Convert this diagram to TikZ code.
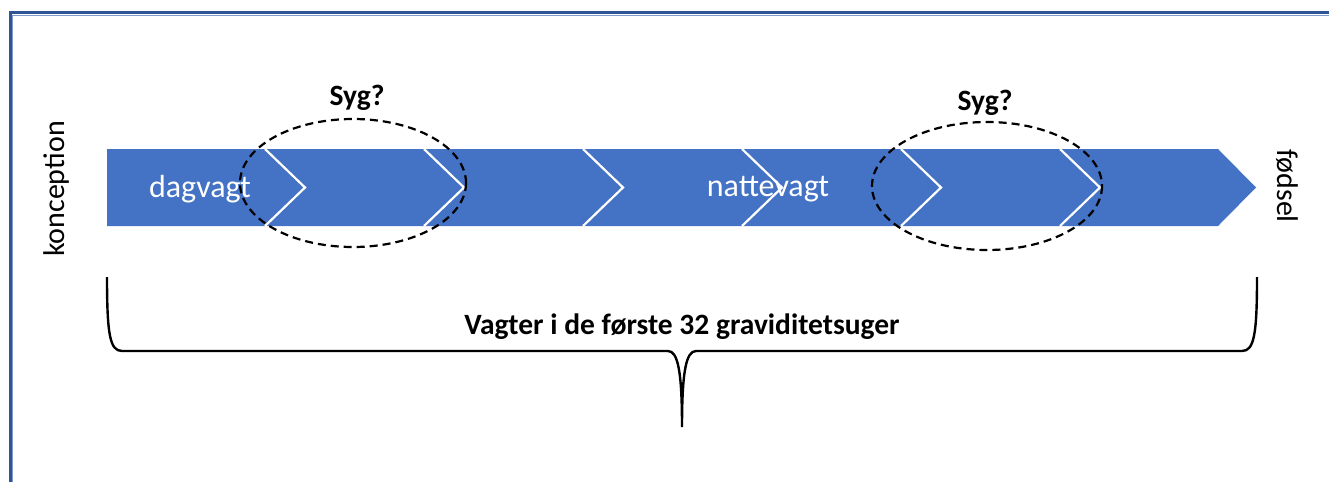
\documentclass[tikz,border=0pt]{standalone}
\usepackage{fontspec}
\setmainfont{Carlito}
\definecolor{barblue}{RGB}{68,114,196}
\definecolor{frameblue}{RGB}{47,85,151}
\definecolor{framelight}{RGB}{130,155,200}
\begin{document}
\begin{tikzpicture}[x=1pt,y=-1pt,
  chev/.style={draw=white,line width=2.2pt},
  sick/.style={draw=black,line width=2.2pt,dash pattern=on 8pt off 5pt},
  whitelbl/.style={text=white,font=\fontsize{32}{38}\selectfont,inner sep=0pt},
  sidelbl/.style={text=black,font=\fontsize{30}{36}\selectfont,inner sep=0pt},
  boldlbl/.style={text=black,font=\bfseries\fontsize{29.5}{35}\selectfont,inner sep=0pt},
  brace/.style={draw=black,line width=2.4pt}]
\useasboundingbox (0,0) rectangle (1329,482);
% frame
\draw[frameblue,line width=3pt] (10,482) -- (10,12.5) -- (1329,12.5);
\draw[framelight,line width=1pt] (12.5,482) -- (12.5,15) -- (1329,15);
% bar
\fill[barblue] (107,149) -- (1218,149) -- (1256,187.5) -- (1218,226) -- (107,226) -- cycle;
% chevron separators
\foreach \t in {305,464,623,782,941,1100}{
  \draw[chev] (\t-40,149) -- (\t,187.5) -- (\t-40,226);
}
% labels in bar
\node[whitelbl] (dag) at (200,189) {dagvagt};
\node[whitelbl] (nat) at (768,189) {nattevagt};
% ellipses
\draw[sick] (353,183) ellipse [x radius=113, y radius=64];
\draw[sick] (987,186) ellipse [x radius=115, y radius=64];
\node[boldlbl] (syg1) at (357,98) {Syg?};
\node[boldlbl] (syg2) at (985,103) {Syg?};
% side labels
\node[sidelbl,rotate=90] (kon) at (57,189) {konception};
\node[sidelbl,rotate=-90] (fod) at (1287,186) {fødsel};
% brace
\draw[brace] (107,277) .. controls (107,335) and (110,351) .. (122,351) -- (668,351)
  .. controls (678,351) and (682,372) .. (682,427)
  .. controls (682,372) and (686,351) .. (696,351) -- (1242,351)
  .. controls (1254,351) and (1257,335) .. (1257,277);
\node[boldlbl] (vag) at (682,327) {Vagter i de første 32 graviditetsuger};
\end{tikzpicture}
\end{document}
